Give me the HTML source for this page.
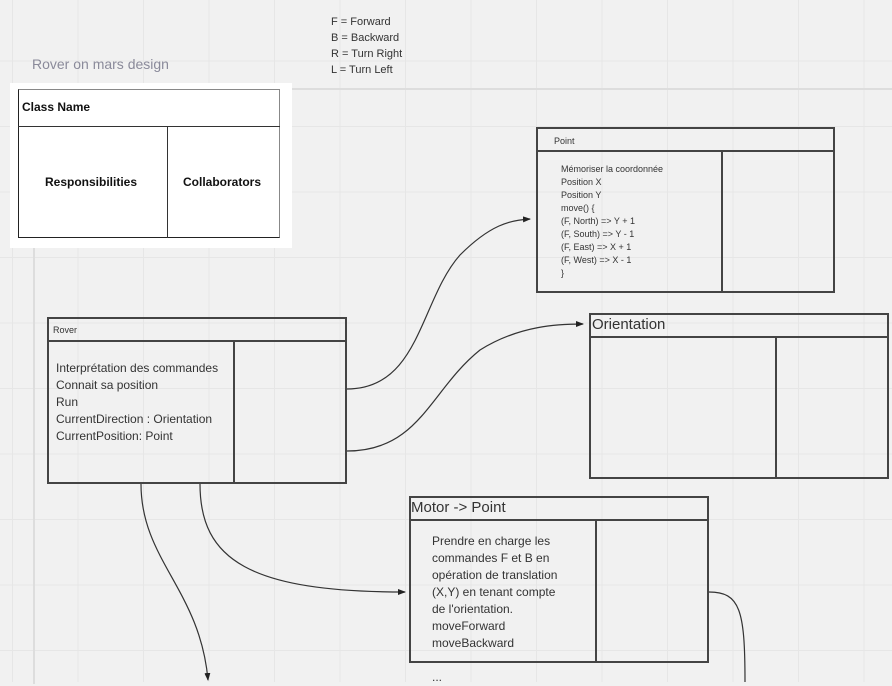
<!DOCTYPE html>
<html><head><meta charset="utf-8"><style>
body{margin:0;width:892px;height:682px;overflow:hidden;background:#f1f1f1;font-family:"Liberation Sans",sans-serif;position:relative}
.grid{position:absolute;inset:0;background-image:linear-gradient(#e6e6e6 1px,transparent 1px),linear-gradient(90deg,#e6e6e6 1px,transparent 1px);background-size:65.5px 65.5px;background-position:12px -5px}
.abs{position:absolute}
.t{font-size:11px;color:#333;line-height:13px}
.box{position:absolute;border:2px solid #444;box-sizing:border-box}
</style></head><body>
<div class="grid"></div>
<div class="abs" style="left:33px;top:88px;width:859px;height:594px;border-left:2px solid #ddd;border-top:2px solid #ddd"></div>
<div class="abs" style="left:32px;top:56px;font-size:14px;color:#8a8a9a">Rover on mars design</div>
<div class="abs t" style="left:331px;top:14px;line-height:16px;font-size:11px">F = Forward<br>B = Backward<br>R = Turn Right<br>L = Turn Left</div>

<div class="abs" style="left:10px;top:83px;width:282px;height:165px;background:#fff"></div>
<div class="abs" style="left:18px;top:89px;width:262px;height:149px;border:1px solid #222;border-right-color:#888;border-top-color:#888;box-sizing:border-box"></div>
<div class="abs" style="left:18px;top:126px;width:262px;height:1px;background:#333"></div>
<div class="abs" style="left:167px;top:126px;width:1px;height:112px;background:#333"></div>
<div class="abs" style="left:22px;top:100px;font-size:12px;font-weight:bold;color:#111">Class Name</div>
<div class="abs" style="left:45px;top:175px;font-size:12px;font-weight:bold;color:#111">Responsibilities</div>
<div class="abs" style="left:183px;top:175px;font-size:12px;font-weight:bold;color:#111">Collaborators</div>

<!-- Point -->
<div class="box" style="left:536px;top:127px;width:299px;height:166px"></div>
<div class="abs" style="left:536px;top:150px;width:299px;height:2px;background:#444"></div>
<div class="abs" style="left:721px;top:150px;width:2px;height:142px;background:#444"></div>
<div class="abs t" style="left:554px;top:135px;font-size:9px">Point</div>
<div class="abs t" style="left:561px;top:163px;font-size:9px;line-height:13px">Mémoriser la coordonnée<br>Position X<br>Position Y<br>move() {<br>(F, North) =&gt; Y + 1<br>(F, South) =&gt; Y - 1<br>(F, East) =&gt; X + 1<br>(F, West) =&gt; X - 1<br>}</div>

<!-- Orientation -->
<div class="box" style="left:589px;top:313px;width:300px;height:166px"></div>
<div class="abs" style="left:589px;top:336px;width:300px;height:2px;background:#444"></div>
<div class="abs" style="left:775px;top:336px;width:2px;height:142px;background:#444"></div>
<div class="abs" style="left:592px;top:316px;font-size:15px;color:#333">Orientation</div>

<!-- Rover -->
<div class="box" style="left:47px;top:317px;width:300px;height:167px"></div>
<div class="abs" style="left:47px;top:340px;width:300px;height:2px;background:#444"></div>
<div class="abs" style="left:233px;top:340px;width:2px;height:143px;background:#444"></div>
<div class="abs t" style="left:53px;top:324px;font-size:9px">Rover</div>
<div class="abs t" style="left:56px;top:360px;font-size:12px;line-height:17px">Interprétation des commandes<br>Connait sa position<br>Run<br>CurrentDirection : Orientation<br>CurrentPosition: Point</div>

<!-- Motor -->
<div class="box" style="left:409px;top:496px;width:300px;height:167px"></div>
<div class="abs" style="left:409px;top:519px;width:300px;height:2px;background:#444"></div>
<div class="abs" style="left:595px;top:519px;width:2px;height:143px;background:#444"></div>
<div class="abs" style="left:411px;top:499px;font-size:15px;color:#333">Motor -&gt; Point</div>
<div class="abs t" style="left:432px;top:533px;font-size:12px;line-height:17px">Prendre en charge les<br>commandes F et B en<br>opération de translation<br>(X,Y) en tenant compte<br>de l'orientation.<br>moveForward<br>moveBackward<br><br>...</div>

<svg class="abs" style="left:0;top:0" width="892" height="682">
<defs><marker id="a" markerWidth="8" markerHeight="8" refX="7" refY="4" orient="auto" markerUnits="userSpaceOnUse"><path d="M0,1 L8,4 L0,7z" fill="#222"/></marker></defs>
<g fill="none" stroke="#333" stroke-width="1.2">
<path d="M347,389 C420,389 420,300 460,255 C490,225 510,220 530,219" marker-end="url(#a)"/>
<path d="M347,451 C420,451 430,390 480,350 C520,325 560,324 583,324" marker-end="url(#a)"/>
<path d="M141,484 C141,560 200,590 208,680" marker-end="url(#a)"/>
<path d="M200,484 C200,560 250,592 405,592" marker-end="url(#a)"/>
<path d="M709,592 C740,592 745,610 745,682"/>
</g>
</svg>
</body></html>
